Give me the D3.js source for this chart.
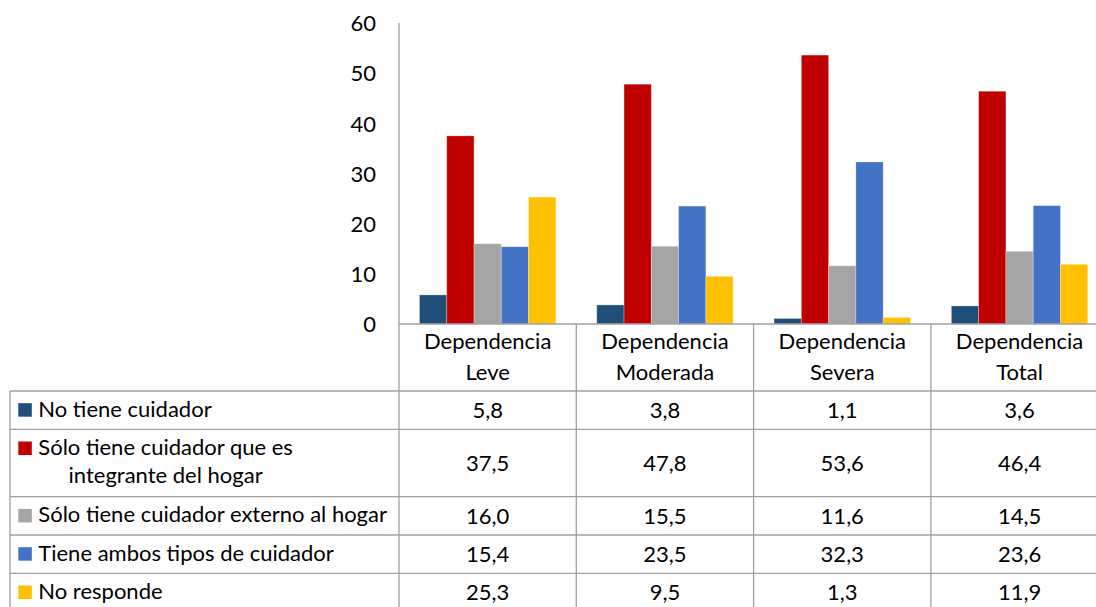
<!DOCTYPE html>
<html>
<head>
<meta charset="utf-8">
<script src="https://cdn.jsdelivr.net/npm/d3@7"></script>
<style>
  html, body { margin: 0; padding: 0; background: #fff; }
  svg { display: block; }
  text { font-family: Lato, "Open Sans", sans-serif; fill: #000; }
</style>
</head>
<body>
<svg id="chart" width="1096" height="607"></svg>
<script>
// ---- data ----
const categories = [["Dependencia", "Leve"], ["Dependencia", "Moderada"], ["Dependencia", "Severa"], ["Dependencia", "Total"]];
const seriesNames = ["No tiene cuidador", "Sólo tiene cuidador que es integrante del hogar", "Sólo tiene cuidador externo al hogar", "Tiene ambos tipos de cuidador", "No responde"];
const seriesLabelLines = [["No tiene cuidador"], ["Sólo tiene cuidador que es", "integrante del hogar"], ["Sólo tiene cuidador externo al hogar"], ["Tiene ambos tipos de cuidador"], ["No responde"]];
const seriesColors = ["#1F4E79", "#C00000", "#A5A5A5", "#4472C4", "#FFC000"];
const noTieneCuidador = [5.8, 3.8, 1.1, 3.6];
const soloIntegrante = [37.5, 47.8, 53.6, 46.4];
const soloExterno = [16.0, 15.5, 11.6, 14.5];
const ambosTipos = [15.4, 23.5, 32.3, 23.6];
const noResponde = [25.3, 9.5, 1.3, 11.9];
const seriesValues = [noTieneCuidador, soloIntegrante, soloExterno, ambosTipos, noResponde];
const yTicks = [0, 10, 20, 30, 40, 50, 60];

// ---- layout ----
const svg = d3.select("#chart");
const plotLeft = 399, plotTop = 23, plotBottom = 324;
const catW = 177.3;
const tableLeft = 10;
const rowTops = [391, 429.3, 496.7, 535, 573.3, 611.6];
const lineCol = "#A0A0A0";
const fs = 22;

const catIdx = categories.map((c, i) => i);
const x = d3.scaleBand().domain(catIdx).range([plotLeft, plotLeft + catW * categories.length]).padding(0);
const xs = d3.scaleBand().domain(d3.range(seriesNames.length)).range([0, x.bandwidth()]).paddingInner(0).paddingOuter(0.75);
const y = d3.scaleLinear().domain([0, 60]).range([plotBottom, plotTop]);

// y axis tick labels
const yAxis = d3.axisLeft(y).tickValues(yTicks).tickSize(0).tickPadding(23).tickFormat(d3.format("d"));
const gy = svg.append("g").attr("transform", `translate(${plotLeft},0)`).call(yAxis);
gy.select(".domain").remove();
gy.selectAll("text").attr("font-size", fs).attr("font-family", "Lato").attr("fill", "#000").attr("dy", "0.35em");

// bars
const groups = svg.append("g").selectAll("g").data(catIdx).join("g")
  .attr("transform", d => `translate(${x(d)},0)`);
groups.selectAll("rect").data(ci => seriesValues.map((vals, si) => ({ si, v: vals[ci] })))
  .join("rect")
  .attr("x", d => xs(d.si))
  .attr("width", xs.bandwidth())
  .attr("y", d => y(d.v))
  .attr("height", d => y(0) - y(d.v))
  .attr("fill", d => seriesColors[d.si])
  .attr("stroke", "#fff").attr("stroke-opacity", 0.35).attr("stroke-width", 0.8);

// axis lines & table grid
const g = svg.append("g").attr("stroke", lineCol).attr("stroke-width", 1.3).attr("fill", "none");
g.append("line").attr("x1", plotLeft).attr("x2", plotLeft).attr("y1", plotTop).attr("y2", 607);
g.append("line").attr("x1", plotLeft).attr("x2", 1096).attr("y1", plotBottom).attr("y2", plotBottom);
catIdx.slice(1).forEach(i => {
  g.append("line").attr("x1", x(i)).attr("x2", x(i)).attr("y1", plotBottom).attr("y2", 607);
});
rowTops.forEach(r => {
  g.append("line").attr("x1", tableLeft).attr("x2", 1096).attr("y1", r).attr("y2", r);
});
g.append("line").attr("x1", tableLeft).attr("x2", tableLeft).attr("y1", rowTops[0]).attr("y2", 607);

// category header
const hdr = svg.append("g");
categories.forEach((c, i) => {
  const cx = x(i) + x.bandwidth() / 2;
  hdr.append("text").attr("x", cx).attr("y", 349.3).attr("text-anchor", "middle").attr("font-size", fs).text(c[0]);
  hdr.append("text").attr("x", cx).attr("y", 380).attr("text-anchor", "middle").attr("font-size", fs).text(c[1]);
});

// table rows
const fmt = v => d3.format(".1f")(v).replace(".", ",");
seriesNames.forEach((name, si) => {
  const top = rowTops[si], bot = rowTops[si + 1];
  const mid = (top + bot) / 2;
  const lines = seriesLabelLines[si];
  const base1 = top + 25.7;
  svg.append("rect").attr("x", 18.3).attr("y", base1 - 13.5).attr("width", 13.5).attr("height", 13.5).attr("fill", seriesColors[si]);
  const t1 = svg.append("text").attr("x", 38.3).attr("y", base1).attr("font-size", fs).text(lines[0]);
  if (lines.length > 1) {
    const w = t1.node().getComputedTextLength();
    svg.append("text").attr("x", 38.3 + w / 2).attr("y", base1 + 28.3).attr("text-anchor", "middle").attr("font-size", fs).text(lines[1]);
  }
  catIdx.forEach(ci => {
    svg.append("text").attr("x", x(ci) + x.bandwidth() / 2).attr("y", mid).attr("dy", "0.35em")
      .attr("text-anchor", "middle").attr("font-size", fs).text(fmt(seriesValues[si][ci]));
  });
});
</script>
</body>
</html>
